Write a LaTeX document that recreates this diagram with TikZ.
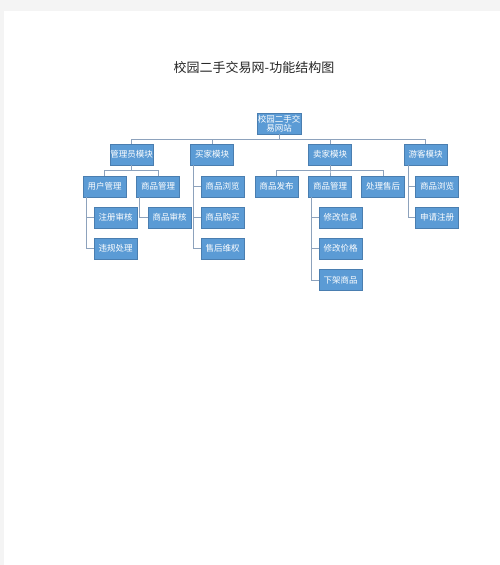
\documentclass[tikz,border=0pt]{standalone}
\usepackage{fontspec}
\setmainfont{Noto Sans CJK SC}
\definecolor{boxblue}{HTML}{5B9BD5}
\definecolor{boxedge}{HTML}{4A7EB0}
\definecolor{linkgray}{HTML}{8DA2BC}
\definecolor{pagegray}{HTML}{F4F4F4}

\begin{document}
\begin{tikzpicture}[x=1pt,y=-1pt,
  blk/.style={draw=boxedge,fill=boxblue,text=white,rectangle,inner sep=0pt,
    minimum width=43pt,minimum height=21pt,font=\fontsize{8.5}{9}\selectfont,align=center},
  link/.style={draw=linkgray,line width=0.9pt}]
  \useasboundingbox (0,0) rectangle (500,565);
  \fill[pagegray] (0,0) rectangle (500,565);
  \fill[white] (4,11) rectangle (500,565);

  \node[text=black!85] (title) at (254,67.5) {\fontsize{13}{14}\selectfont 校园二手交易网-功能结构图};

  \node[blk,minimum width=44pt] (root) at (279,123.5) {校园二手交\\易网站};
  % modules
  \node[blk] (admin) at (131.5,154.5) {管理员模块};
  \node[blk] (buyer) at (212,154.5) {买家模块};
  \node[blk] (seller) at (330,154.5) {卖家模块};
  \node[blk] (visitor) at (425.5,154.5) {游客模块};
  % admin
  \node[blk] (user) at (104.5,186.5) {用户管理};
  \node[blk] (amgr) at (158,186.5) {商品管理};
  \node[blk] (reg) at (115.5,217.5) {注册审核};
  \node[blk] (viol) at (115.5,248.5) {违规处理};
  \node[blk] (audit) at (169.5,217.5) {商品审核};
  % buyer
  \node[blk] (bbrowse) at (222.5,186.5) {商品浏览};
  \node[blk] (buy) at (222.5,217.5) {商品购买};
  \node[blk] (service) at (222.5,248.5) {售后维权};
  % seller
  \node[blk] (publish) at (276.5,186.5) {商品发布};
  \node[blk] (smgr) at (330,186.5) {商品管理};
  \node[blk] (after) at (383,186.5) {处理售后};
  \node[blk] (info) at (340.5,217.5) {修改信息};
  \node[blk] (price) at (340.5,248.5) {修改价格};
  \node[blk] (off) at (340.5,280) {下架商品};
  % visitor
  \node[blk] (vbrowse) at (437,186.5) {商品浏览};
  \node[blk] (vreg) at (437,217.5) {申请注册};

  % connectors
  \foreach \m in {admin,buyer,seller,visitor}
    \draw[link] (root.south) -- +(0,5) -| (\m.north);
  \foreach \m in {user,amgr}
    \draw[link] (admin.south) -- +(0,5) -| (\m.north);
  \foreach \m in {publish,smgr,after}
    \draw[link] (seller.south) -- +(0,5) -| (\m.north);

  \foreach \m in {reg,viol}
    \draw[link] ([xshift=3.5pt]user.south west) |- (\m.west);
  \draw[link] ([xshift=3.5pt]amgr.south west) |- (audit.west);
  \foreach \m in {bbrowse,buy,service}
    \draw[link] ([xshift=3.5pt]buyer.south west) |- (\m.west);
  \foreach \m in {info,price,off}
    \draw[link] ([xshift=3pt]smgr.south west) |- (\m.west);
  \foreach \m in {vbrowse,vreg}
    \draw[link] ([xshift=5pt]visitor.south west) |- (\m.west);
\end{tikzpicture}
\end{document}
